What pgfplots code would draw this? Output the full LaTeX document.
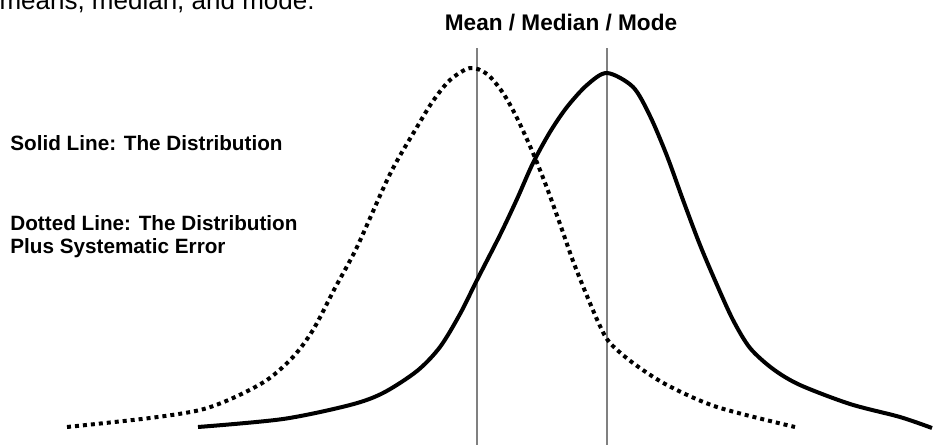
\documentclass[border=0pt]{standalone}
\usepackage{fontspec}
\setmainfont{Liberation Sans}
\usepackage{pgfplots}
\pgfplotsset{compat=1.18}

% solid: the distribution (pixel coordinates, y down)
\pgfplotstableread{
x y
198 427
283 419
350 405
383 393
417 371
440 347
460 314
477 280
500 235
517 199
533 163
550 132
567 107
587 85
607 73
633 87
650 116
667 156
683 200
700 245
717 285
733 320
750 348
773 369
800 385
850 404
900 417
932 428
}\solid

% dotted: distribution plus systematic error
\pgfplotstableread{
x y
67 427
150 418
200 410
233 398
267 380
293 357
313 330
335 288
357 247
390 174
417 127
433 101
450 80
470 68
487 74
503 93
517 118
533 153
547 188
560 224
573 261
587 296
600 326
610 343
633 363
667 385
717 407
795 427
}\dotted

\begin{document}
\begin{tikzpicture}
\useasboundingbox (0,0) rectangle (475.5pt,222.5pt);
\clip (0,0) rectangle (475.5pt,222.5pt);
\begin{axis}[
    at={(0,0)}, anchor=south west,
    scale only axis,
    width=475.5pt, height=222.5pt,
    xmin=0, xmax=951, ymin=0, ymax=445,
    y dir=reverse,
    hide axis,
    clip=false,
]
% mean / median / mode markers
\addplot[gray, line width=0.6pt] coordinates {(477,48) (477,445)};
\addplot[gray, line width=0.6pt] coordinates {(607,48) (607,445)};

\addplot[black, line width=2pt, smooth, tension=0.5] table[x=x, y=y] {\solid};
\addplot[black, line width=2pt, smooth, tension=0.5, dash pattern=on 2pt off 2pt] table[x=x, y=y] {\dotted};

\node[anchor=base east, inner sep=0pt, font=\fontsize{13}{15}\selectfont] at (axis cs:315,9) {means, median, and mode.};
\node[anchor=base, inner sep=0pt, font=\bfseries\fontsize{11.3}{13}\selectfont] at (axis cs:561,30) {Mean / Median / Mode};
\node[anchor=base west, inner sep=0pt, font=\bfseries\fontsize{10.35}{12}\selectfont] at (axis cs:10,150) {Solid Line: The Distribution};
\node[anchor=base west, inner sep=0pt, font=\bfseries\fontsize{10.35}{12}\selectfont] at (axis cs:10,230) {Dotted Line: The Distribution};
\node[anchor=base west, inner sep=0pt, font=\bfseries\fontsize{10.35}{12}\selectfont] at (axis cs:10,253) {Plus Systematic Error};
\end{axis}
\end{tikzpicture}
\end{document}
